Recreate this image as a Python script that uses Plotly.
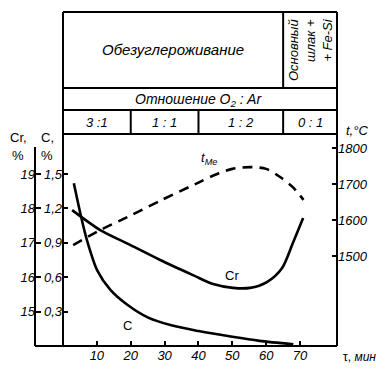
import plotly.graph_objects as go

# ---------------- data ----------------
time_c = [3.2, 5.4, 7.1, 10.1, 14, 19, 25, 32, 40, 50, 58, 68]
carbon = [1.42, 1.12, 0.92, 0.66, 0.49, 0.36, 0.25, 0.18, 0.13, 0.08, 0.045, 0.015]

time_cr = [2.7, 11.0, 19.8, 28.7, 38.4, 44.3, 50.2, 55.2, 60.2, 64.7, 67.9, 70.9]
chromium = [17.95, 17.37, 16.94, 16.5, 16.06, 15.8, 15.69, 15.69, 15.86, 16.27, 17.0, 17.72]

time_t = [3, 11, 19, 29, 40, 46, 50, 55, 60, 64, 68, 71]
temp = [1530, 1572, 1608, 1655, 1704, 1730, 1742, 1747, 1742, 1720, 1690, 1656]

x_ticks = [10, 20, 30, 40, 50, 60, 70]
c_ticks = [0.3, 0.6, 0.9, 1.2, 1.5]
cr_ticks = [15, 16, 17, 18, 19]
t_ticks = [1500, 1600, 1700, 1800]

stage_bounds = [0, 20, 40, 65]          # minutes where gas ratio changes
ratio_labels = ["3 :1", "1 : 1", "1 : 2", "0 : 1"]
period_bound = 65                        # decarburization ends

# ---------------- geometry helpers ----------------
W, H = 382, 377
def px(x):
    return x / W
def py(y):
    return 1 - y / H

X_MAX = 80.9
LEFT, RIGHT, TOP_PLOT, BOTTOM = 63, 337, 135, 346

ITF = dict(family="Liberation Sans", size=13, color="black", style="italic")
UPF = dict(family="Liberation Sans", size=13, color="black")

fig = go.Figure()
fig.add_trace(go.Scatter(x=time_c, y=carbon, mode="lines", yaxis="y",
                         line=dict(color="black", width=2.6, shape="spline", smoothing=0.8),
                         showlegend=False, hoverinfo="skip"))
fig.add_trace(go.Scatter(x=time_cr, y=chromium, mode="lines", yaxis="y2",
                         line=dict(color="black", width=2.6, shape="spline", smoothing=0.8),
                         showlegend=False, hoverinfo="skip"))
fig.add_trace(go.Scatter(x=time_t, y=temp, mode="lines", yaxis="y3",
                         line=dict(color="black", width=2.6, shape="spline", smoothing=0.8,
                                   dash="10px,7px"),
                         showlegend=False, hoverinfo="skip"))

axis_common = dict(showgrid=False, zeroline=False, showline=False, ticks="inside",
                   ticklen=5, tickwidth=1.5, tickcolor="black", tickfont=ITF)

fig.update_layout(
    width=W, height=H, margin=dict(l=0, r=0, t=0, b=0),
    paper_bgcolor="white", plot_bgcolor="white",
    separators=", ",
    xaxis=dict(domain=[px(LEFT), px(RIGHT)], range=[0, X_MAX], tickvals=x_ticks,
               anchor="y", **axis_common),
    yaxis=dict(domain=[py(BOTTOM), py(TOP_PLOT)], range=[0, (BOTTOM - TOP_PLOT) / 34.4 * 0.3],
               tickvals=c_ticks, tickformat=".1f", anchor="x", side="left", **axis_common),
    yaxis2=dict(overlaying="y", anchor="free", position=px(35), side="left",
                range=[14, 14 + (BOTTOM - TOP_PLOT) / 34.4], tickvals=cr_ticks, **axis_common),
    yaxis3=dict(overlaying="y", anchor="x", side="right",
                range=[1800 - (BOTTOM - 148) / 36 * 100, 1800 + (148 - TOP_PLOT) / 36 * 100],
                tickvals=t_ticks, **axis_common),
)

shapes = []
def pline(x0, y0, x1, y1, w=2):
    shapes.append(dict(type="line", xref="paper", yref="paper", x0=px(x0), y0=py(y0),
                       x1=px(x1), y1=py(y1), line=dict(color="black", width=w)))

pline(LEFT, 12, LEFT, BOTTOM)
pline(RIGHT, 12, RIGHT, BOTTOM)
pline(LEFT, 12, RIGHT, 12)
pline(35, BOTTOM, RIGHT, BOTTOM)
pline(35, 147, 35, BOTTOM)
for yy in (88, 110, 134):
    pline(LEFT, yy, RIGHT, yy)
# vertical dividers at stage bounds (data x)
shapes.append(dict(type="line", xref="x", yref="paper", x0=period_bound, x1=period_bound,
                   y0=py(12), y1=py(88), line=dict(color="black", width=2)))
for b in stage_bounds[1:]:
    shapes.append(dict(type="line", xref="x", yref="paper", x0=b, x1=b,
                       y0=py(110), y1=py(134), line=dict(color="black", width=2)))
fig.update_layout(shapes=shapes)

ann = []
def add_ann(**kw):
    kw.setdefault("showarrow", False)
    kw.setdefault("xanchor", "center")
    kw.setdefault("yanchor", "middle")
    ann.append(kw)

add_ann(xref="x", yref="paper", x=period_bound / 2, y=py(49), text="Обезуглероживание",
        font=dict(ITF, size=15))
add_ann(xref="x", yref="paper", x=(period_bound + X_MAX) / 2 + 0.3, y=py(50),
        text="Основный<br>шлак +<br>+ Fe-Si", textangle=-90, align="right",
        font=dict(ITF, size=13))
add_ann(xref="x", yref="paper", x=X_MAX / 2 - 0.5, y=py(100),
        text="Отношение O<sub>2</sub> : Ar", font=dict(ITF, size=14))
bounds_full = stage_bounds + [X_MAX]
for i, lab in enumerate(ratio_labels):
    add_ann(xref="x", yref="paper", x=(bounds_full[i] + bounds_full[i + 1]) / 2,
            y=py(122), text=lab, font=ITF)
add_ann(xref="x", yref="y3", x=43, y=1772, text="t<sub>Me</sub>", font=ITF)
add_ann(xref="x", yref="y2", x=50, y=16.06, text="Cr", font=UPF)
add_ann(xref="x", yref="y", x=19, y=0.18, text="C", font=UPF)
add_ann(xref="paper", yref="paper", x=px(18), y=py(137), text="Cr,", font=UPF)
add_ann(xref="paper", yref="paper", x=px(47), y=py(137), text="C,", font=UPF)
add_ann(xref="paper", yref="paper", x=px(18), y=py(155), text="%", font=UPF)
add_ann(xref="paper", yref="paper", x=px(47), y=py(155), text="%", font=UPF)
add_ann(xref="paper", yref="paper", x=px(357), y=py(130), text="t,°C", font=ITF)
add_ann(xref="paper", yref="paper", x=px(359), y=py(357), text="τ, <i>мин</i>",
        font=dict(UPF, size=12))
fig.update_layout(annotations=ann)

fig.write_html("out.html", config={"displayModeBar": False},
               post_script="document.body.style.margin='0';document.body.style.overflow='hidden';")
